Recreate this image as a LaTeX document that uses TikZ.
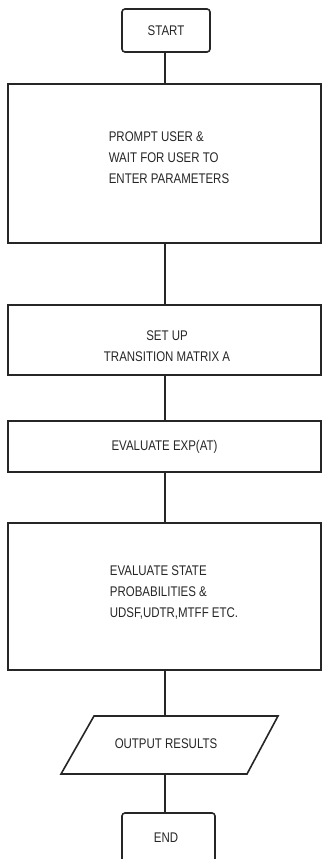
\documentclass[tikz,border=0pt]{standalone}
\usepackage{fontspec}
\setmainfont{Liberation Sans}[FakeStretch=0.82]
\begin{document}
\begin{tikzpicture}[x=1pt,y=-1pt,
  line width=1.6pt, draw=black!85,
  every node/.style={font=\fontsize{14}{21}\selectfont, text=black!85},
  term/.style={draw, rounded corners=3pt, minimum width=88pt, minimum height=43pt, inner sep=0pt},
  proc/.style={draw, minimum width=313pt, inner sep=0pt},
  txt/.style={inner sep=0pt, align=left},
  ctxt/.style={inner sep=0pt, align=center}]
\clip (0,0) rectangle (322,859);

% terminals and process boxes
\node[term] (start) at (166,30.5) {START};
\node[proc, minimum height=159pt] (b1) at (164.5,163.5) {};
\node[txt] (t1) at (169,158) {PROMPT USER \&\\WAIT FOR USER TO\\ENTER PARAMETERS};
\node[proc, minimum height=70pt] (b2) at (164.5,340) {};
\node[ctxt] (t2) at (167,346) {SET UP\\TRANSITION MATRIX A};
\node[proc, minimum height=51pt] (b3) at (164.5,446.5) {EVALUATE EXP(AT)};
\node[proc, minimum height=147pt] (b4) at (164.5,596.5) {};
\node[txt] (t4) at (174,593) {EVALUATE STATE\\PROBABILITIES \&\\UDSF,UDTR,MTFF ETC.};

% output parallelogram
\coordinate (o1) at (61,774);
\coordinate (o2) at (247,774);
\coordinate (o3) at (278,716);
\coordinate (o4) at (94,716);
\draw (o1) -- (o2) -- (o3) -- (o4) -- cycle;
\node[ctxt] (out) at (166,744) {OUTPUT RESULTS};
\coordinate (outtop) at (165,716);
\coordinate (outbot) at (165,774);

\node[term, minimum width=93pt, minimum height=67pt] (end) at (168.5,846.5) {};
\node[ctxt] (tend) at (166,838) {END};

% connectors
\draw (start.south -| 165,0) -- (b1.north -| 165,0);
\draw (b1.south -| 165,0) -- (b2.north -| 165,0);
\draw (b2.south -| 165,0) -- (b3.north -| 165,0);
\draw (b3.south -| 165,0) -- (b4.north -| 165,0);
\draw (b4.south -| 165,0) -- (outtop);
\draw (outbot) -- (end.north -| 165,0);
\end{tikzpicture}
\end{document}
